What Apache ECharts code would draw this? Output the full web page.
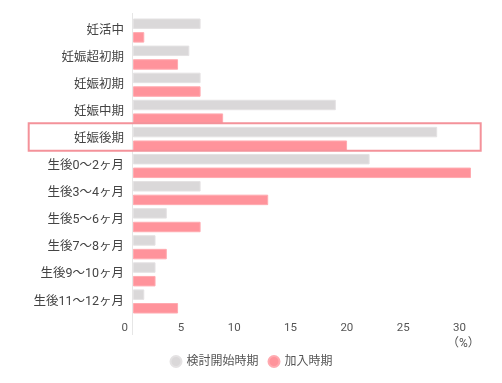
<!DOCTYPE html>
<html>
<head>
<meta charset="utf-8">
<script src="https://cdn.jsdelivr.net/npm/echarts@6/dist/echarts.min.js"></script>
<style>
html,body{margin:0;padding:0;background:#fff;}
#chart{width:502px;height:383px;}
</style>
</head>
<body>
<div id="chart"></div>
<script>
var categories = ['妊活中','妊娠超初期','妊娠初期','妊娠中期','妊娠後期','生後0～2ヶ月','生後3～4ヶ月','生後5～6ヶ月','生後7～8ヶ月','生後9～10ヶ月','生後11～12ヶ月'];
var seriesNames = ['検討開始時期','加入時期'];
var startValues = [6, 5, 6, 18, 27, 21, 6, 3, 2, 2, 1];
var joinValues  = [1, 4, 6, 8, 19, 30, 12, 6, 3, 2, 4];
var xTicks = [0, 5, 10, 15, 20, 25, 30];
var highlightCategory = '妊娠後期';
var unitLabel = '（%）';

var FONT = "Roboto, 'Noto Sans CJK JP', sans-serif";
var GRID = {left: 133, right: 31, top: 17, bottom: 68};

var chart = echarts.init(document.getElementById('chart'), null, {renderer: 'canvas'});
chart.setOption({
  animation: false,
  backgroundColor: '#ffffff',
  title: {
    text: unitLabel,
    left: 447, top: 338, padding: 0,
    textStyle: {fontSize: 12, fontWeight: 'normal', color: '#555', fontFamily: FONT}
  },
  legend: {
    data: seriesNames,
    left: 'center', top: 355, padding: 0,
    icon: 'circle', itemWidth: 11, itemHeight: 11, itemGap: 9,
    textStyle: {fontSize: 12, color: '#555', fontFamily: FONT}
  },
  grid: {left: GRID.left, right: GRID.right, top: GRID.top, bottom: GRID.bottom, containLabel: false},
  xAxis: {
    type: 'value', min: xTicks[0], max: xTicks[xTicks.length - 1], interval: 5,
    axisLine: {show: false}, axisTick: {show: false}, splitLine: {show: false},
    axisLabel: {
      align: 'right', padding: [0, 5, 0, 0], margin: 7,
      fontSize: 11.5, color: '#555', fontFamily: FONT
    }
  },
  yAxis: {
    type: 'category', data: categories, inverse: true,
    axisLine: {show: false}, axisTick: {show: false}, splitLine: {show: false},
    axisLabel: {margin: 9, fontSize: 12.5, color: '#444', fontFamily: FONT}
  },
  series: [
    {
      name: seriesNames[0], type: 'bar', data: startValues,
      barCategoryGap: '11%', barGap: '30%',
      itemStyle: {color: '#dad8d9', borderColor: '#e4e2e3', borderWidth: 1}
    },
    {
      name: seriesNames[1], type: 'bar', data: joinValues,
      barCategoryGap: '11%', barGap: '30%',
      itemStyle: {color: '#ff939b', borderColor: '#ffaab0', borderWidth: 1}
    }
  ]
});

var cy = chart.convertToPixel({yAxisIndex: 0}, highlightCategory);
var chartH = 383;
chart.setOption({
  graphic: [
    {
      type: 'line', silent: true, z: 0,
      shape: {x1: GRID.left - 0.5, y1: GRID.top - 4, x2: GRID.left - 0.5, y2: chartH - GRID.bottom + 20},
      style: {stroke: '#e6e6e6', lineWidth: 1}
    },
    {
      type: 'rect', silent: true, z: 10,
      shape: {x: 28.7, y: cy - 15.6, width: 452, height: 27.4},
      style: {fill: 'none', stroke: '#f4929a', lineWidth: 2}
    }
  ]
});
</script>
</body>
</html>
